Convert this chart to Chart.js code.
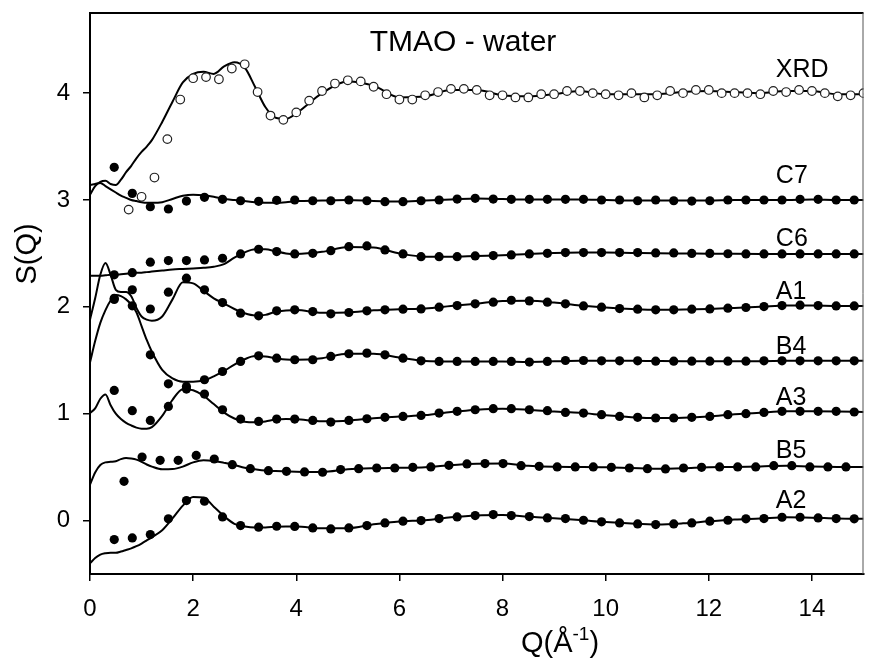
<!DOCTYPE html>
<html>
<head>
<meta charset="utf-8">
<title>TMAO - water S(Q)</title>
<script src="https://cdn.jsdelivr.net/npm/chart.js@4.4.1/dist/chart.umd.min.js"></script>
<style>
  html, body { margin: 0; padding: 0; background: #fff; }
  #chart { display: block; }
</style>
</head>
<body>
<canvas id="chart" width="869" height="659"></canvas>
<script>
// Q grids
const qN = [0.47, 0.82, 1.17, 1.52, 1.87, 2.22, 2.57, 2.92, 3.27, 3.62, 3.97, 4.32, 4.67, 5.02,
  5.37, 5.72, 6.07, 6.42, 6.77, 7.12, 7.47, 7.82, 8.17, 8.52, 8.87, 9.22, 9.57, 9.92, 10.27,
  10.62, 10.97, 11.32, 11.67, 12.02, 12.37, 12.72, 13.07, 13.42, 13.77, 14.12, 14.47, 14.82];
const qB5 = [0.66, 1.01, 1.36, 1.71, 2.06, 2.41, 2.76, 3.11, 3.46, 3.81, 4.16, 4.51, 4.86, 5.21,
  5.56, 5.91, 6.26, 6.61, 6.96, 7.31, 7.66, 8.01, 8.36, 8.71, 9.06, 9.41, 9.76, 10.11, 10.46,
  10.81, 11.16, 11.51, 11.86, 12.21, 12.56, 12.91, 13.26, 13.61, 13.96, 14.31, 14.66];
const qXRD = [0.75, 1, 1.25, 1.5, 1.75, 2, 2.25, 2.5, 2.75, 3, 3.25, 3.5, 3.75, 4, 4.25, 4.5,
  4.75, 5, 5.25, 5.5, 5.75, 6, 6.25, 6.5, 6.75, 7, 7.25, 7.5, 7.75, 8, 8.25, 8.5, 8.75, 9, 9.25,
  9.5, 9.75, 10, 10.25, 10.5, 10.75, 11, 11.25, 11.5, 11.75, 12, 12.25, 12.5, 12.75, 13, 13.25,
  13.5, 13.75, 14, 14.25, 14.5, 14.75, 15];
const qFit = [0, 0.1, 0.2, 0.3, 0.4, 0.5, 0.6, 0.7, 0.8, 0.9, 1.0, 1.1, 1.2, 1.4, 1.6, 1.8, 2.0,
  2.2, 2.4, 2.6, 2.8, 3.0, 3.2, 3.4, 3.6, 3.8, 4.0, 4.5, 5.0, 5.5, 6.0, 6.5, 7.0, 7.5, 8.0, 8.5,
  9.0, 9.5, 10.0, 10.5, 11.0, 11.5, 12.0, 12.5, 13.0, 13.5, 14.0, 14.5, 15.0];

// XRD (open circles) and fit
const xrdObs = [2.91, 3.03, 3.21, 3.57, 3.94, 4.14, 4.15, 4.13, 4.23, 4.27, 4.01, 3.79, 3.75,
  3.82, 3.93, 4.02, 4.09, 4.12, 4.11, 4.06, 3.99, 3.94, 3.94, 3.98, 4.01, 4.04, 4.04, 4.03, 3.98,
  3.98, 3.96, 3.96, 3.99, 3.99, 4.02, 4.02, 4.00, 3.99, 3.98, 4.00, 3.96, 3.98, 4.02, 4.00, 4.03,
  4.03, 4.00, 4.00, 4.00, 3.99, 4.02, 4.01, 4.03, 4.02, 4.00, 3.97, 3.98, 4.00];
const xrdFit = [3.05, 3.13, 3.17, 3.18, 3.15, 3.14, 3.19, 3.26, 3.32, 3.39, 3.45, 3.50, 3.56,
  3.73, 3.92, 4.10, 4.18, 4.20, 4.18, 4.25, 4.29, 4.24, 4.06, 3.87, 3.77, 3.76, 3.81,
  4.00, 4.11, 4.07, 3.96, 3.97, 4.03, 4.03, 3.98, 3.97, 3.99, 4.02, 3.99, 3.99, 3.99, 4.01, 4.02,
  4.01, 4.00, 4.02, 4.02, 3.99, 3.99];

// neutron sets (filled dots) and fits
const c7Obs = [3.306, 3.062, 2.937, 2.916, 2.99, 3.025, 3.006, 2.993, 2.988, 2.997, 3.0, 2.993,
  2.993, 3.0, 2.993, 2.984, 2.984, 2.993, 3.0, 3.009, 3.016, 3.009, 3.006, 3.006, 3.006, 3.006,
  3.006, 3.0, 3.0, 2.993, 3.0, 2.993, 2.99, 2.993, 3.0, 3.0, 3.0, 3.0, 3.006, 3.006, 3.0, 3.0];
const c7Fit = [3.14, 3.15, 3.16, 3.13, 3.10, 3.07, 3.04, 3.02, 3.00, 2.99, 2.98, 2.975, 2.975,
  2.98, 3.01, 3.04, 3.05, 3.045, 3.03, 3.01, 3.00, 2.99, 2.98, 2.975, 2.975, 2.98, 2.99,
  2.995, 3.00, 2.99, 2.985, 2.995, 3.005, 3.015, 3.01, 3.005, 3.005, 3.005, 3.00, 2.995, 2.995,
  2.995, 2.995, 3.00, 3.00, 3.00, 3.005, 3.00, 3.00];

const c6Obs = [2.30, 2.32, 2.418, 2.433, 2.433, 2.439, 2.455, 2.495, 2.539, 2.517, 2.495, 2.501,
  2.526, 2.563, 2.57, 2.533, 2.495, 2.47, 2.47, 2.47, 2.477, 2.48, 2.486, 2.495, 2.501, 2.508,
  2.508, 2.508, 2.508, 2.508, 2.505, 2.505, 2.5, 2.5, 2.497, 2.495, 2.495, 2.495, 2.495, 2.495,
  2.495, 2.495];
const c6Fit = [2.29, 2.29, 2.29, 2.295, 2.30, 2.30, 2.305, 2.31, 2.315, 2.32, 2.32, 2.325, 2.33,
  2.34, 2.35, 2.355, 2.36, 2.365, 2.375, 2.40, 2.46, 2.51, 2.54, 2.54, 2.52, 2.50, 2.495,
  2.515, 2.56, 2.555, 2.50, 2.47, 2.47, 2.477, 2.483, 2.495, 2.505, 2.508, 2.508, 2.505, 2.502,
  2.50, 2.498, 2.496, 2.495, 2.495, 2.495, 2.495, 2.495];

const a1Obs = [2.07, 2.16, 1.98, 2.137, 2.268, 2.159, 2.04, 1.941, 1.916, 1.963, 1.972, 1.956,
  1.935, 1.947, 1.963, 1.972, 1.978, 1.981, 1.997, 2.012, 2.028, 2.044, 2.062, 2.056, 2.044,
  2.028, 2.009, 1.997, 1.984, 1.978, 1.972, 1.972, 1.978, 1.981, 1.988, 1.994, 2.003, 2.012,
  2.016, 2.012, 2.009, 2.009];
const a1Fit = [1.88, 2.08, 2.30, 2.41, 2.30, 2.16, 2.14, 2.14, 2.10, 1.99, 1.91, 1.88, 1.87,
  1.91, 2.07, 2.23, 2.22, 2.15, 2.08, 2.03, 1.98, 1.94, 1.92, 1.925, 1.955, 1.965, 1.97,
  1.945, 1.947, 1.968, 1.978, 1.985, 2.008, 2.03, 2.055, 2.056, 2.04, 2.012, 1.994, 1.98, 1.972,
  1.975, 1.981, 1.99, 2.00, 2.013, 2.013, 2.009, 2.009];

const b4Obs = [2.08, 2.01, 1.551, 1.28, 1.255, 1.318, 1.395, 1.489, 1.542, 1.52, 1.505, 1.505,
  1.536, 1.561, 1.567, 1.551, 1.52, 1.495, 1.489, 1.489, 1.489, 1.489, 1.489, 1.483, 1.489,
  1.498, 1.498, 1.495, 1.495, 1.495, 1.492, 1.492, 1.492, 1.492, 1.492, 1.492, 1.495, 1.495,
  1.495, 1.495, 1.495, 1.495];
const b4Fit = [1.48, 1.68, 1.85, 1.97, 2.06, 2.11, 2.10, 2.07, 2.02, 1.95, 1.82, 1.69, 1.58,
  1.41, 1.33, 1.30, 1.30, 1.31, 1.35, 1.40, 1.46, 1.51, 1.54, 1.535, 1.52, 1.508, 1.505,
  1.52, 1.56, 1.56, 1.525, 1.493, 1.489, 1.489, 1.489, 1.485, 1.49, 1.495, 1.495, 1.495, 1.493,
  1.492, 1.492, 1.492, 1.492, 1.495, 1.495, 1.495, 1.495];

const a3Obs = [1.218, 1.028, 0.937, 1.068, 1.231, 1.184, 1.037, 0.95, 0.928, 0.95, 0.95, 0.937,
  0.922, 0.937, 0.953, 0.966, 0.975, 0.984, 1.006, 1.022, 1.037, 1.047, 1.047, 1.037, 1.028,
  1.012, 1.006, 0.991, 0.975, 0.966, 0.96, 0.96, 0.966, 0.975, 0.991, 1.0, 1.012, 1.022, 1.022,
  1.022, 1.022, 1.016];
const a3Fit = [1.007, 1.05, 1.14, 1.18, 1.08, 1.00, 0.95, 0.915, 0.89, 0.87, 0.86, 0.86, 0.875,
  0.98, 1.13, 1.23, 1.22, 1.17, 1.09, 1.01, 0.955, 0.925, 0.92, 0.928, 0.945, 0.95, 0.948,
  0.93, 0.935, 0.958, 0.973, 0.987, 1.016, 1.038, 1.047, 1.037, 1.02, 1.008, 0.985, 0.968, 0.96,
  0.963, 0.975, 0.995, 1.01, 1.022, 1.022, 1.021, 1.016];

const b5Obs = [0.367, 0.595, 0.564, 0.564, 0.61, 0.576, 0.523, 0.486, 0.467, 0.461, 0.455, 0.452,
  0.477, 0.486, 0.492, 0.492, 0.498, 0.502, 0.517, 0.53, 0.533, 0.533, 0.514, 0.508, 0.502,
  0.502, 0.502, 0.498, 0.492, 0.486, 0.483, 0.492, 0.498, 0.502, 0.502, 0.502, 0.514, 0.514,
  0.502, 0.502, 0.502];
const b5Fit = [0.336, 0.45, 0.52, 0.545, 0.55, 0.555, 0.575, 0.585, 0.58, 0.57, 0.55, 0.525, 0.505,
  0.48, 0.482, 0.505, 0.545, 0.565, 0.558, 0.54, 0.52, 0.495, 0.48, 0.468, 0.464, 0.461, 0.458,
  0.455, 0.48, 0.49, 0.494, 0.50, 0.518, 0.532, 0.533, 0.512, 0.503, 0.502, 0.50, 0.492, 0.485,
  0.49, 0.50, 0.502, 0.506, 0.514, 0.505, 0.502, 0.502];

const a2Obs = [-0.178, -0.162, -0.131, 0.016, 0.187, 0.181, 0.034, -0.047, -0.062, -0.053, -0.055,
  -0.069, -0.078, -0.069, -0.047, -0.022, -0.006, 0.0, 0.019, 0.034, 0.047, 0.056, 0.047, 0.037,
  0.025, 0.019, 0.003, -0.012, -0.022, -0.031, -0.037, -0.031, -0.022, -0.006, 0.003, 0.016,
  0.019, 0.031, 0.031, 0.025, 0.019, 0.016];
const a2Fit = [-0.40, -0.35, -0.318, -0.305, -0.30, -0.302, -0.29, -0.275, -0.26, -0.24, -0.215,
  -0.185, -0.155, -0.09, 0.02, 0.14, 0.22, 0.215, 0.13, 0.04, -0.03, -0.055, -0.065, -0.065,
  -0.058, -0.055, -0.055, -0.073, -0.072, -0.035, -0.008, 0.003, 0.03, 0.048, 0.052, 0.037, 0.022,
  0.005, -0.014, -0.028, -0.036, -0.026, -0.007, 0.01, 0.019, 0.031, 0.027, 0.019, 0.016];

// axes
const xTicks = [0, 2, 4, 6, 8, 10, 12, 14];
const yTicks = [0, 1, 2, 3, 4];
const seriesNames = ["XRD", "C7", "C6", "A1", "B4", "A3", "B5", "A2"];
const seriesLabelY = [4.22, 3.22, 2.63, 2.14, 1.62, 1.15, 0.65, 0.18];

const FONT = "'Liberation Sans', Arial, sans-serif";

function pts(xs, ys) {
  return xs.map((x, i) => ({ x: x, y: ys[i] }));
}

function fit(ys) {
  return {
    data: pts(qFit, ys),
    showLine: true,
    borderColor: "#000",
    borderWidth: 2,
    pointRadius: 0,
    cubicInterpolationMode: "monotone",
    fill: false,
    order: 2,
  };
}

function dots(xs, ys) {
  return {
    data: pts(xs, ys),
    showLine: false,
    pointRadius: 4.6,
    pointBackgroundColor: "#000",
    pointBorderColor: "#000",
    pointBorderWidth: 0,
    order: 1,
  };
}

// 文字、边框
const decorations = {
  id: "decorations",
  afterDraw(chart) {
    const { ctx, chartArea: a, scales } = chart;
    ctx.save();
    // top & right frame
    ctx.strokeStyle = "#000";
    ctx.lineWidth = 2;
    ctx.beginPath();
    ctx.moveTo(a.left - 1, a.top);
    ctx.lineTo(a.right, a.top);
    ctx.stroke();
    ctx.strokeStyle = "#555";
    ctx.lineWidth = 1;
    ctx.beginPath();
    ctx.moveTo(a.right - 0.5, a.top);
    ctx.lineTo(a.right - 0.5, a.bottom);
    ctx.stroke();

    ctx.fillStyle = "#000";
    ctx.textBaseline = "middle";

    // title
    ctx.font = "30px " + FONT;
    ctx.textAlign = "center";
    ctx.fillText("TMAO - water", 463, 43);

    // series labels
    ctx.font = "25px " + FONT;
    ctx.textAlign = "left";
    seriesNames.forEach((name, i) => {
      ctx.fillText(name, scales.x.getPixelForValue(13.3), scales.y.getPixelForValue(seriesLabelY[i]));
    });

    // y title
    ctx.save();
    ctx.translate(28, 254);
    ctx.rotate(-Math.PI / 2);
    ctx.font = "29px " + FONT;
    ctx.textAlign = "center";
    ctx.fillText("S(Q)", 0, 0);
    ctx.restore();

    // x title with superscript
    ctx.textAlign = "left";
    ctx.textBaseline = "alphabetic";
    const main = "29px " + FONT;
    const sup = "19px " + FONT;
    ctx.font = main;
    const w1 = ctx.measureText("Q(Å").width;
    const w3 = ctx.measureText(")").width;
    ctx.font = sup;
    const w2 = ctx.measureText("-1").width;
    let x = 560 - (w1 + w2 + w3) / 2;
    const base = 652;
    ctx.font = main;
    ctx.fillText("Q(Å", x, base);
    x += w1;
    ctx.font = sup;
    ctx.fillText("-1", x, base - 12);
    x += w2;
    ctx.font = main;
    ctx.fillText(")", x, base);
    ctx.restore();
  },
};

new Chart(document.getElementById("chart"), {
  type: "scatter",
  data: {
    datasets: [
      {
        data: pts(qXRD, xrdObs),
        showLine: false,
        pointRadius: 4.3,
        pointBackgroundColor: "#fff",
        pointBorderColor: "#222",
        pointBorderWidth: 1.2,
        order: 1,
      },
      dots(qN, c7Obs),
      dots(qN, c6Obs),
      dots(qN, a1Obs),
      dots(qN, b4Obs),
      dots(qN, a3Obs),
      dots(qB5, b5Obs),
      dots(qN, a2Obs),
      fit(xrdFit),
      fit(c7Fit),
      fit(c6Fit),
      fit(a1Fit),
      fit(b4Fit),
      fit(a3Fit),
      fit(b5Fit),
      fit(a2Fit),
    ],
  },
  options: {
    responsive: false,
    animation: false,
    devicePixelRatio: 1,
    layout: { padding: { top: 13, right: 1, left: 0, bottom: 0 } },
    plugins: {
      legend: { display: false },
      tooltip: { enabled: false },
    },
    scales: {
      x: {
        type: "linear",
        min: 0,
        max: 15,
        afterBuildTicks: (s) => {
          s.ticks = xTicks.map((v) => ({ value: v }));
        },
        afterFit: (s) => {
          s.height = 85;
          s.paddingLeft = 0;
          s.paddingRight = 0;
        },
        border: { display: true, color: "#000", width: 2 },
        grid: { drawOnChartArea: false, drawTicks: true, tickLength: 7, color: "#000", lineWidth: 1.5 },
        ticks: { color: "#000", font: { family: FONT, size: 24 }, padding: 14, maxRotation: 0 },
      },
      y: {
        type: "linear",
        min: -0.5,
        max: 4.75,
        afterBuildTicks: (s) => {
          s.ticks = yTicks.map((v) => ({ value: v }));
        },
        afterFit: (s) => {
          s.width = 90;
          s.paddingTop = 0;
          s.paddingBottom = 0;
        },
        border: { display: true, color: "#000", width: 2 },
        grid: { drawOnChartArea: false, drawTicks: true, tickLength: 7, color: "#000", lineWidth: 1.5 },
        ticks: { color: "#000", font: { family: FONT, size: 24 }, padding: 13 },
      },
    },
  },
  plugins: [decorations],
});
</script>
</body>
</html>
